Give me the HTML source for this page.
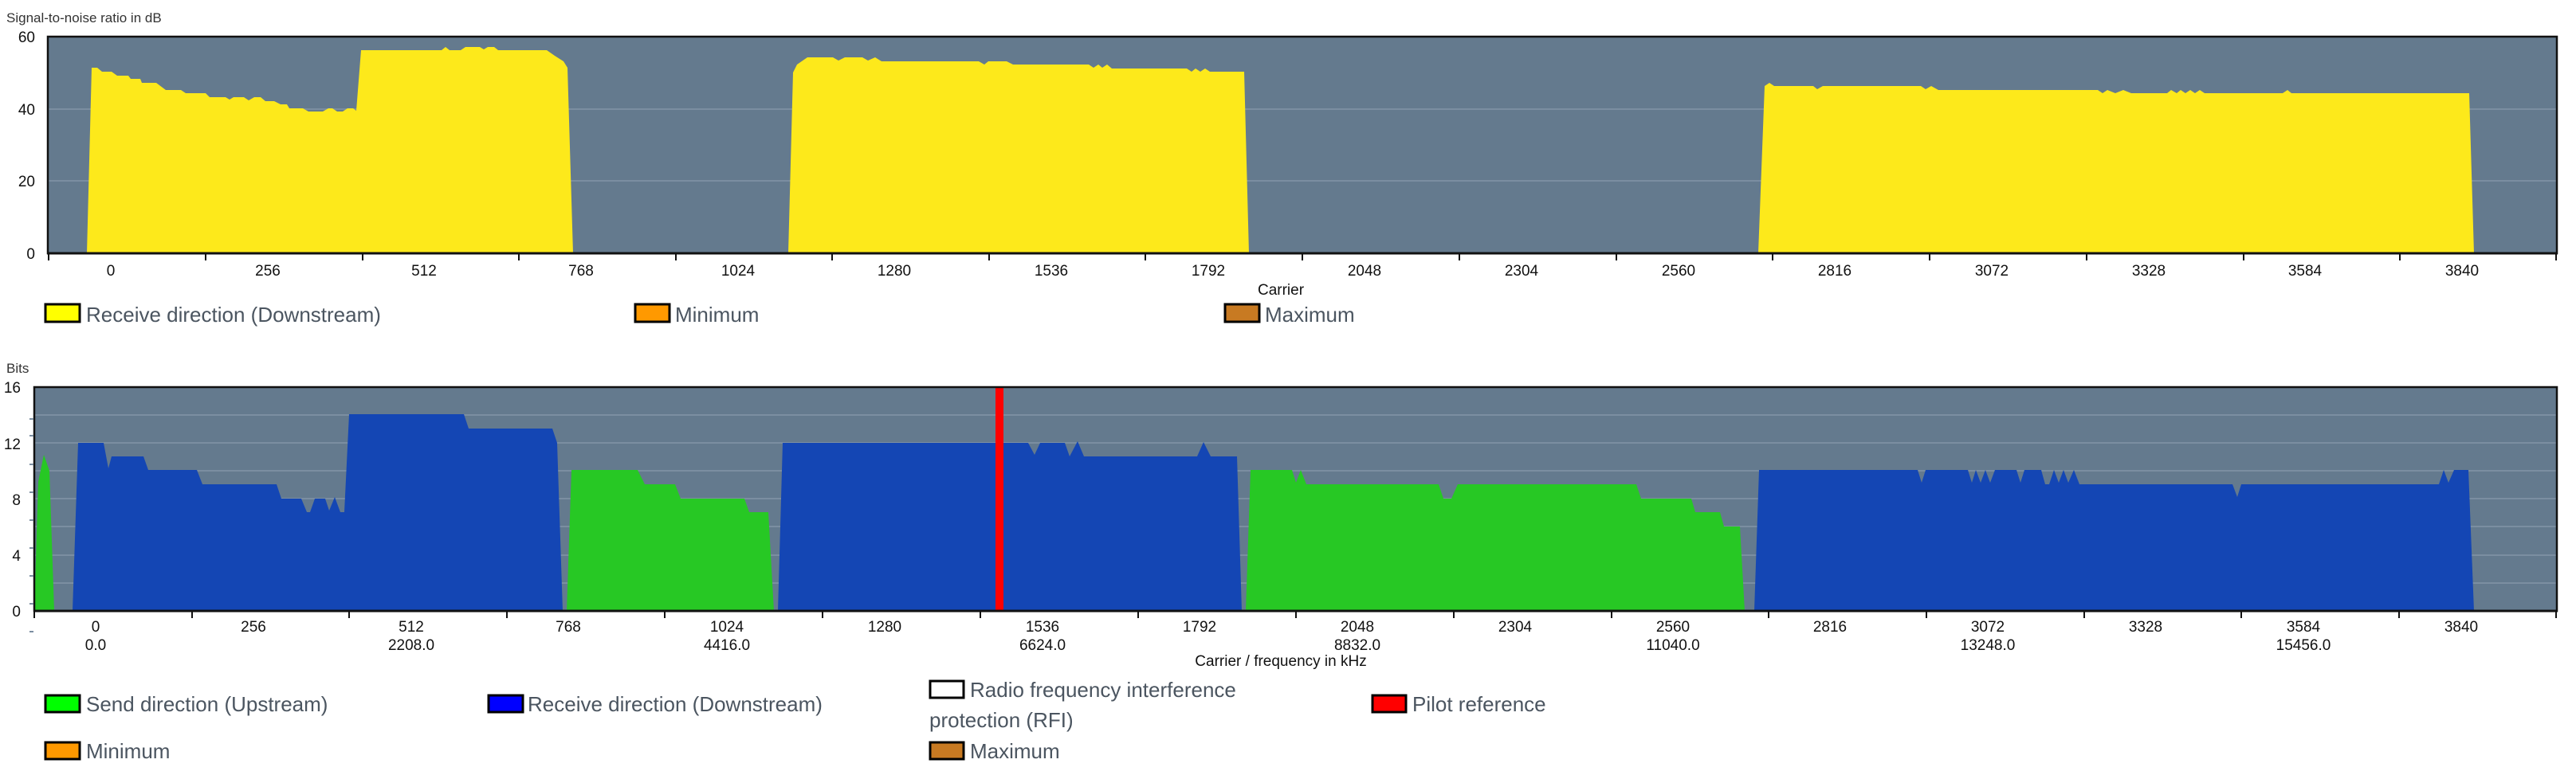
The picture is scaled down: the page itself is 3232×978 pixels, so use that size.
<!DOCTYPE html>
<html><head><meta charset="utf-8"><style>
html,body{margin:0;padding:0;background:#fff;}
svg{display:block;}
.t{font-family:"Liberation Sans Narrow","Liberation Sans",sans-serif;fill:#111;font-size:19px;}
.lg{font-family:"Liberation Sans",sans-serif;fill:#4b5560;font-size:26px;}
.ax{font-family:"Liberation Sans",sans-serif;fill:#333;font-size:17px;}
</style></head><body>
<svg width="3232" height="978" viewBox="0 0 3232 978" xmlns="http://www.w3.org/2000/svg">
<!-- TOP CHART -->
<text class="ax" x="8" y="28">Signal-to-noise ratio in dB</text>
<rect x="60" y="46" width="3148" height="272" fill="#647a8e"/>
<line x1="60" y1="137" x2="3208" y2="137" stroke="#7b8ea1" stroke-width="2"/>
<line x1="60" y1="227" x2="3208" y2="227" stroke="#7b8ea1" stroke-width="2"/>
<polygon fill="#fde91b" points="109,318 115,85 122,85 128,90 140,90 147,95 161,95 164,99 176,99 178,104 196,104 208,113 227,113 233,117 258,117 263,122 283,122 288,125 293,122 306,122 312,126 319,122 327,122 333,127 344,127 352,131 360,131 363,136 380,136 387,140 405,140 412,136 417,136 423,140 430,140 436,136 443,136 447,139 453,63 554,63 559,59 564,63 578,63 584,59 602,59 607,62 612,59 620,59 625,63 686,63 696,70 707,77 712,85 719,318"/>
<polygon fill="#fde91b" points="989,318 995,91 1000,81 1013,72 1045,72 1052,76 1060,72 1082,72 1089,76 1098,72 1106,77 1228,77 1235,81 1240,77 1263,77 1271,81 1366,81 1372,85 1378,81 1383,85 1389,81 1395,86 1489,86 1495,90 1500,86 1506,90 1512,86 1518,90 1561,90 1567,318"/>
<polygon fill="#fde91b" points="2206,318 2214,108 2220,104 2226,108 2275,108 2280,112 2287,108 2410,108 2416,112 2423,108 2432,113 2632,113 2638,117 2644,113 2654,117 2664,113 2674,117 2719,117 2724,113 2731,117 2736,113 2742,117 2748,113 2754,117 2760,113 2766,117 2864,117 2870,113 2875,117 3098,117 3104,318"/>
<rect x="60" y="46" width="3148" height="272" fill="none" stroke="#111" stroke-width="2.5"/>
<line x1="59" y1="318" x2="3209" y2="318" stroke="#111" stroke-width="3"/>
<g stroke="#111" stroke-width="2">
<line x1="61" y1="318" x2="61" y2="327"/><line x1="258" y1="318" x2="258" y2="327"/><line x1="455" y1="318" x2="455" y2="327"/><line x1="651" y1="318" x2="651" y2="327"/><line x1="848" y1="318" x2="848" y2="327"/><line x1="1044" y1="318" x2="1044" y2="327"/><line x1="1241" y1="318" x2="1241" y2="327"/><line x1="1437" y1="318" x2="1437" y2="327"/><line x1="1634" y1="318" x2="1634" y2="327"/><line x1="1831" y1="318" x2="1831" y2="327"/><line x1="2028" y1="318" x2="2028" y2="327"/><line x1="2224" y1="318" x2="2224" y2="327"/><line x1="2421" y1="318" x2="2421" y2="327"/><line x1="2618" y1="318" x2="2618" y2="327"/><line x1="2815" y1="318" x2="2815" y2="327"/><line x1="3011" y1="318" x2="3011" y2="327"/><line x1="3207" y1="318" x2="3207" y2="327"/>
</g>
<g class="t" text-anchor="end"><text x="44" y="53">60</text><text x="44" y="144">40</text><text x="44" y="234">20</text><text x="44" y="325">0</text></g>
<g class="t" text-anchor="middle">
<text x="139" y="346">0</text><text x="336" y="346">256</text><text x="532" y="346">512</text><text x="729" y="346">768</text><text x="926" y="346">1024</text><text x="1122" y="346">1280</text><text x="1319" y="346">1536</text><text x="1516" y="346">1792</text><text x="1712" y="346">2048</text><text x="1909" y="346">2304</text><text x="2106" y="346">2560</text><text x="2302" y="346">2816</text><text x="2499" y="346">3072</text><text x="2696" y="346">3328</text><text x="2892" y="346">3584</text><text x="3089" y="346">3840</text>
<text x="1607" y="370">Carrier</text>
</g>
<rect x="57" y="382" width="43" height="22" fill="#ffff00" stroke="#000" stroke-width="3"/>
<text class="lg" x="108" y="404">Receive direction (Downstream)</text>
<rect x="797" y="382" width="43" height="22" fill="#ff9900" stroke="#000" stroke-width="3"/>
<text class="lg" x="847" y="404">Minimum</text>
<rect x="1537" y="382" width="43" height="22" fill="#c87a22" stroke="#000" stroke-width="3"/>
<text class="lg" x="1587" y="404">Maximum</text>

<!-- BOTTOM CHART -->
<text class="ax" x="8" y="468">Bits</text>
<rect x="43" y="486" width="3165" height="281" fill="#647a8e"/>
<g stroke="#7b8ea1" stroke-width="2">
<line x1="43" y1="521" x2="3208" y2="521"/><line x1="43" y1="556" x2="3208" y2="556"/><line x1="43" y1="591" x2="3208" y2="591"/><line x1="43" y1="626" x2="3208" y2="626"/><line x1="43" y1="661" x2="3208" y2="661"/><line x1="43" y1="697" x2="3208" y2="697"/><line x1="43" y1="732" x2="3208" y2="732"/>
</g>
<polygon fill="#27c824" points="43,767 48,605 55,571 62,591 68,767"/>
<polygon fill="#1446b4" points="91,767 98,556 130,556 136,588 140,573 180,573 186,590 247,590 254,608 347,608 353,626 378,626 385,643 389,643 395,626 408,626 413,641 420,624 427,643 432,643 438,520 582,520 588,538 693,538 699,556 706,767"/>
<polygon fill="#27c824" points="711,767 717,590 800,590 809,608 847,608 854,626 934,626 940,643 964,643 971,767"/>
<polygon fill="#1446b4" points="976,767 982,556 1290,556 1298,571 1305,556 1336,556 1342,573 1352,554 1360,573 1502,573 1510,555 1519,573 1552,573 1558,767"/>
<polygon fill="#27c824" points="1563,767 1569,590 1621,590 1626,606 1632,590 1639,608 1805,608 1811,626 1821,626 1829,608 2053,608 2059,626 2122,626 2127,643 2158,643 2163,661 2183,661 2189,767"/>
<polygon fill="#1446b4" points="2201,767 2207,590 2406,590 2411,606 2416,590 2469,590 2474,606 2479,590 2485,606 2491,590 2497,606 2503,590 2530,590 2535,606 2540,590 2561,590 2566,608 2571,608 2577,590 2583,606 2589,590 2595,606 2602,590 2609,608 2801,608 2807,624 2812,608 3060,608 3066,590 3072,606 3079,590 3097,590 3104,767"/>
<rect x="1249" y="486" width="10" height="281" fill="#ff0000"/>
<rect x="43" y="486" width="3165" height="281" fill="none" stroke="#111" stroke-width="2.5"/>
<line x1="42" y1="767" x2="3209" y2="767" stroke="#111" stroke-width="3"/>
<g stroke="#111" stroke-width="2">
<line x1="43" y1="767" x2="43" y2="776"/><line x1="241" y1="767" x2="241" y2="776"/><line x1="438" y1="767" x2="438" y2="776"/><line x1="636" y1="767" x2="636" y2="776"/><line x1="834" y1="767" x2="834" y2="776"/><line x1="1032" y1="767" x2="1032" y2="776"/><line x1="1230" y1="767" x2="1230" y2="776"/><line x1="1428" y1="767" x2="1428" y2="776"/><line x1="1626" y1="767" x2="1626" y2="776"/><line x1="1824" y1="767" x2="1824" y2="776"/><line x1="2022" y1="767" x2="2022" y2="776"/><line x1="2219" y1="767" x2="2219" y2="776"/><line x1="2417" y1="767" x2="2417" y2="776"/><line x1="2615" y1="767" x2="2615" y2="776"/><line x1="2812" y1="767" x2="2812" y2="776"/><line x1="3010" y1="767" x2="3010" y2="776"/><line x1="3207" y1="767" x2="3207" y2="776"/>
</g>
<g stroke="#7b8ea1" stroke-width="2">
<line x1="37" y1="526" x2="42" y2="526"/><line x1="37" y1="547" x2="42" y2="547"/><line x1="37" y1="583" x2="42" y2="583"/><line x1="37" y1="618" x2="42" y2="618"/><line x1="37" y1="653" x2="42" y2="653"/><line x1="37" y1="688" x2="42" y2="688"/><line x1="37" y1="723" x2="42" y2="723"/><line x1="37" y1="758" x2="42" y2="758"/><line x1="37" y1="793" x2="42" y2="793"/>
</g>
<g class="t" text-anchor="end"><text x="26" y="493">16</text><text x="26" y="564">12</text><text x="26" y="634">8</text><text x="26" y="704">4</text><text x="26" y="774">0</text></g>
<g class="t" text-anchor="middle">
<text x="120" y="793">0</text><text x="318" y="793">256</text><text x="516" y="793">512</text><text x="713" y="793">768</text><text x="912" y="793">1024</text><text x="1110" y="793">1280</text><text x="1308" y="793">1536</text><text x="1505" y="793">1792</text><text x="1703" y="793">2048</text><text x="1901" y="793">2304</text><text x="2099" y="793">2560</text><text x="2296" y="793">2816</text><text x="2494" y="793">3072</text><text x="2692" y="793">3328</text><text x="2890" y="793">3584</text><text x="3088" y="793">3840</text>
<text x="120" y="816">0.0</text><text x="516" y="816">2208.0</text><text x="912" y="816">4416.0</text><text x="1308" y="816">6624.0</text><text x="1703" y="816">8832.0</text><text x="2099" y="816">11040.0</text><text x="2494" y="816">13248.0</text><text x="2890" y="816">15456.0</text>
<text x="1607" y="836">Carrier / frequency in kHz</text>
</g>
<rect x="57" y="873" width="43" height="21" fill="#00ff00" stroke="#000" stroke-width="3"/>
<text class="lg" x="108" y="893">Send direction (Upstream)</text>
<rect x="613" y="873" width="43" height="21" fill="#0000ff" stroke="#000" stroke-width="3"/>
<text class="lg" x="662" y="893">Receive direction (Downstream)</text>
<rect x="1167" y="855" width="42" height="21" fill="#ffffff" stroke="#000" stroke-width="3"/>
<text class="lg" x="1217" y="875">Radio frequency interference</text>
<text class="lg" x="1166" y="913">protection (RFI)</text>
<rect x="1722" y="873" width="42" height="21" fill="#ff0000" stroke="#000" stroke-width="3"/>
<text class="lg" x="1772" y="893">Pilot reference</text>
<rect x="57" y="932" width="43" height="21" fill="#ff9900" stroke="#000" stroke-width="3"/>
<text class="lg" x="108" y="952">Minimum</text>
<rect x="1167" y="932" width="42" height="21" fill="#c87a22" stroke="#000" stroke-width="3"/>
<text class="lg" x="1217" y="952">Maximum</text>
</svg>
</body></html>
